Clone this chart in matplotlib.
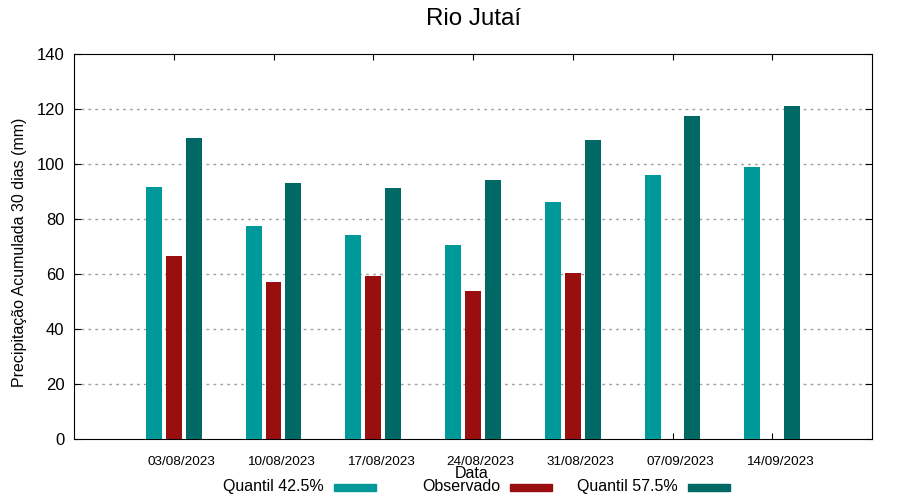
import matplotlib
matplotlib.use("Agg")
import matplotlib.pyplot as plt
import matplotlib.transforms as mtransforms
from matplotlib.patches import Rectangle
import numpy as np

dates = ["03/08/2023", "10/08/2023", "17/08/2023", "24/08/2023",
         "31/08/2023", "07/09/2023", "14/09/2023"]
q425 = [91.7, 77.5, 74.2, 70.5, 86.2, 96.0, 98.9]
observado = [66.5, 57.1, 59.4, 53.8, 60.4, None, None]
q575 = [109.5, 93.1, 91.3, 94.2, 108.7, 117.5, 121.1]
series_names = ["Quantil 42.5%", "Observado", "Quantil 57.5%"]

c_q425 = "#009999"
c_obs = "#990f0f"
c_q575 = "#006966"
colors = [c_q425, c_obs, c_q575]

plt.rcParams['font.family'] = ['Liberation Sans', 'DejaVu Sans']

W, H = 900, 500
fig = plt.figure(figsize=(9, 5), dpi=100)
ax = fig.add_axes([74/W, 1-439/H, (872-74)/W, (439-54)/H])

x = np.arange(len(dates))
w = 0.16
ax.bar(x - 0.2, q425, width=w, color=c_q425, zorder=3)
obs_x = [xi for xi, v in zip(x, observado) if v is not None]
obs_v = [v for v in observado if v is not None]
ax.bar(np.array(obs_x), obs_v, width=w, color=c_obs, zorder=3)
ax.bar(x + 0.2, q575, width=w, color=c_q575, zorder=3)

ax.set_xlim(-1, 7)
ax.set_ylim(0, 140)
ax.set_yticks(np.arange(0, 141, 20))
ax.set_xticks(x)
ax.set_xticklabels(dates, fontsize=9.7)
ax.tick_params(axis='y', labelsize=12, direction='in', right=True, length=5, pad=7)
ax.tick_params(axis='x', direction='in', top=True, length=4, pad=12)
offset = mtransforms.ScaledTranslation(0.075, 0, fig.dpi_scale_trans)
for lbl in ax.get_xticklabels():
    lbl.set_transform(lbl.get_transform() + offset)
for yv in range(20, 140, 20):
    ax.axhline(yv, color="#a0a0a0", linestyle=(0, (2, 3)), linewidth=1, zorder=1)

fig.text(473.5/W, 1-19/H, "Rio Jutaí", ha='center', va='center', fontsize=17.4)
fig.text(20/W, 1-252/H, "Precipitação Acumulada 30 dias (mm)", rotation=90,
         ha='center', va='center', fontsize=11.5)
fig.text(472/W, 1-474/H, "Data", ha='center', va='center', fontsize=11.5)

# legend (gnuplot style: text then colour sample)
text_right = [324, 500, 678]
for name, col, xr in zip(series_names, colors, text_right):
    fig.text(xr/W, 1-491/H, name, ha='right', va='baseline', fontsize=11.5)
    fig.patches.append(Rectangle(((xr+10)/W, 1-491/H), 42/W, 7/H,
                                 transform=fig.transFigure, color=col))

fig.savefig("out.png", dpi=100)
